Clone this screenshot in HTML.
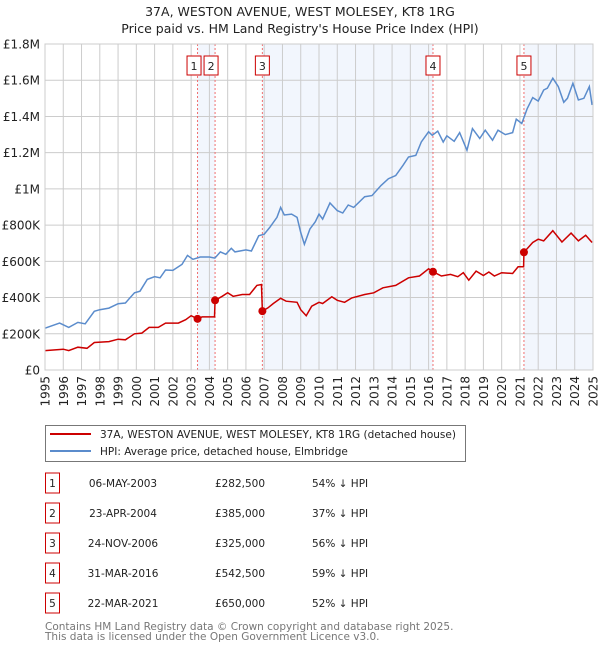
<!DOCTYPE html>
<html><head><meta charset="utf-8"><style>
body{margin:0;background:#fff;width:600px;height:650px;overflow:hidden;font-family:"DejaVu Sans","Liberation Sans",sans-serif;}
svg text{font-family:"DejaVu Sans","Liberation Sans",sans-serif;}
</style></head><body>
<svg id="c" width="600" height="650" xmlns="http://www.w3.org/2000/svg">
<text x="300" y="16" text-anchor="middle" font-size="12.5" fill="#222">37A, WESTON AVENUE, WEST MOLESEY, KT8 1RG</text>
<text x="300" y="33" text-anchor="middle" font-size="12.5" fill="#222">Price paid vs. HM Land Registry's House Price Index (HPI)</text>
<g id="shade"></g><g id="grid"></g><g id="vlines"></g><g id="lines"></g><g id="axes"></g>
<g>
<rect x="45.5" y="425.5" width="420" height="36" fill="#fff" stroke="#777"/>
<line x1="50" y1="434" x2="91" y2="434" stroke="#cc0000" stroke-width="2"/>
<text x="100" y="438" font-size="10.5" fill="#222">37A, WESTON AVENUE, WEST MOLESEY, KT8 1RG (detached house)</text>
<line x1="50" y1="451" x2="91" y2="451" stroke="#5b8ccc" stroke-width="2"/>
<text x="100" y="455" font-size="10.5" fill="#222">HPI: Average price, detached house, Elmbridge</text>
</g>
<g id="table"></g>
<text x="45" y="630" font-size="10.5" fill="#777">Contains HM Land Registry data © Crown copyright and database right 2025.</text>
<text x="45" y="640" font-size="10.5" fill="#777">This data is licensed under the Open Government Licence v3.0.</text>
</svg>
<script>
const hpiYears=[1995,1995.8,1996.3,1996.8,1997.2,1997.7,1998,1998.5,1999,1999.4,1999.9,2000.2,2000.6,2001,2001.3,2001.6,2002,2002.5,2002.8,2003.1,2003.5,2004,2004.3,2004.6,2004.9,2005.2,2005.4,2006,2006.3,2006.7,2007,2007.3,2007.7,2007.9,2008.1,2008.5,2008.8,2009,2009.2,2009.5,2009.8,2010,2010.2,2010.6,2011,2011.3,2011.6,2011.9,2012.5,2012.9,2013.4,2013.8,2014.2,2014.6,2014.9,2015.3,2015.6,2016,2016.2,2016.5,2016.8,2017,2017.4,2017.7,2018.1,2018.4,2018.8,2019.1,2019.5,2019.8,2020.2,2020.6,2020.8,2021.1,2021.4,2021.7,2022,2022.3,2022.5,2022.8,2023.1,2023.4,2023.6,2023.9,2024.2,2024.5,2024.8,2024.95];
const hpiValues=[231,259,235,263,255,324,333,342,366,370,426,435,500,515,509,552,550,583,633,611,624,624,618,652,639,672,652,663,657,741,750,787,843,898,856,861,843,759,694,778,819,861,833,922,880,867,911,898,957,963,1019,1056,1074,1130,1176,1185,1259,1315,1296,1319,1259,1293,1263,1311,1213,1333,1278,1324,1269,1324,1300,1311,1385,1361,1444,1504,1485,1546,1556,1611,1565,1478,1500,1583,1491,1500,1565,1463];
const ppYears=[1995,1996,1996.3,1996.8,1997.3,1997.7,1998.5,1999,1999.4,1999.9,2000.3,2000.7,2001.2,2001.6,2002.3,2002.7,2003,2003.35,2003.6,2004.28,2004.31,2004.7,2005,2005.3,2005.8,2006.2,2006.6,2006.85,2006.9,2007.2,2007.5,2007.9,2008.2,2008.8,2009,2009.3,2009.6,2010,2010.2,2010.7,2011,2011.4,2011.8,2012.5,2013,2013.5,2014.2,2014.9,2015.5,2016,2016.24,2016.7,2017.2,2017.6,2017.9,2018.2,2018.6,2019,2019.3,2019.6,2020,2020.6,2020.9,2021.2,2021.22,2021.7,2022,2022.3,2022.8,2023.3,2023.8,2024.2,2024.6,2024.95];
const ppValues=[107,115,107,126,120,152,157,170,167,200,204,235,235,259,259,278,300,282.5,293,293,385,407,426,407,417,417,467,472,325,343,367,396,380,374,333,300,352,374,367,404,385,374,398,417,426,454,467,509,519,559,542.5,519,528,515,537,496,546,522,541,519,537,533,570,570,650,704,722,713,769,707,756,713,744,704];
const saleYears=[2003.35,2004.31,2006.9,2016.24,2021.22];
const saleValues=[282.5,385,325,542.5,650];
const saleLabels=["1","2","3","4","5"];
const saleDates=["06-MAY-2003","23-APR-2004","24-NOV-2006","31-MAR-2016","22-MAR-2021"];
const salePrices=["£282,500","£385,000","£325,000","£542,500","£650,000"];
const saleHpi=["54% ↓ HPI","37% ↓ HPI","56% ↓ HPI","59% ↓ HPI","52% ↓ HPI"];
const yTicks=[0,200,400,600,800,1000,1200,1400,1600,1800];
const yTickLabels=["£0","£200K","£400K","£600K","£800K","£1M","£1.2M","£1.4M","£1.6M","£1.8M"];
const xTicks=[1995,1996,1997,1998,1999,2000,2001,2002,2003,2004,2005,2006,2007,2008,2009,2010,2011,2012,2013,2014,2015,2016,2017,2018,2019,2020,2021,2022,2023,2024,2025];

const L=45,R=593,T=44,B=370;
const X=y=>L+(y-1995)/30*(R-L);
const Y=v=>B-v/1800*(B-T);
const NS="http://www.w3.org/2000/svg";
function mk(tag,parent,attrs){const e=document.createElementNS(NS,tag);for(const k in attrs)e.setAttribute(k,attrs[k]);document.getElementById(parent).appendChild(e);return e;}

const shadeSpans=[[0,1],[2,3],[4,null]];
shadeSpans.forEach(([a,b])=>{
  const x1=X(saleYears[a]),x2=b===null?R:X(saleYears[b]);
  const r=mk('rect','shade',{x:x1,y:T,width:x2-x1,height:B-T,fill:'#eef3fc',opacity:0.75});
  
  
});
yTicks.forEach((v,i)=>{
  const l=mk('line','grid',{x1:L,x2:R,y1:Y(v),y2:Y(v),stroke:'#cccccc','stroke-width':1});
  
  
  const t=mk('text','axes',{x:L-5,y:Y(v)+4.5,'text-anchor':'end','font-size':12,fill:'#222'});
  t.textContent=yTickLabels[i];
  
  
});
xTicks.forEach(y=>{
  const l=mk('line','grid',{x1:X(y),x2:X(y),y1:T,y2:B,stroke:'#cccccc','stroke-width':1});
  
  
  const t=mk('text','axes',{x:0,y:0,'text-anchor':'end','font-size':12,fill:'#222',transform:`translate(${X(y)+4.5},376) rotate(-90)`});
  t.textContent=y;
  
  
});
const ax=mk('rect','axes',{x:L,y:T,width:R-L,height:B-T,fill:'none',stroke:'#ccc'});


const boxOffsets=[-10.5,-11,-7,-7,-7];
saleYears.forEach((y,i)=>{
  const l=mk('line','vlines',{x1:X(y),x2:X(y),y1:T,y2:B,stroke:'#f07070','stroke-width':1,'stroke-dasharray':'2,2'});
  
  
  const bx=X(y)+boxOffsets[i];
  const r=mk('rect','vlines',{x:bx,y:56,width:14,height:19,fill:'#fff',stroke:'#cc0000'});
  
  
  const t=mk('text','vlines',{x:bx+7,y:70,'text-anchor':'middle','font-size':11,fill:'#222'});
  t.textContent=saleLabels[i];
  
  
});
const hp=mk('polyline','lines',{points:hpiYears.map((y,i)=>X(y)+','+Y(hpiValues[i]).toFixed(1)).join(' '),fill:'none',stroke:'#5b8ccc','stroke-width':1.5});


const pp=mk('polyline','lines',{points:ppYears.map((y,i)=>X(y)+','+Y(ppValues[i]).toFixed(1)).join(' '),fill:'none',stroke:'#cc0000','stroke-width':1.5});


saleYears.forEach((y,i)=>{
  const c=mk('circle','lines',{cx:X(y),cy:Y(saleValues[i]),r:4,fill:'#cc0000'});
  
  
});
saleYears.forEach((y,i)=>{
  const cy=483+i*30;
  const r=mk('rect','table',{x:45.5,y:cy-10,width:14,height:20,fill:'#fff',stroke:'#cc0000'});
  
  
  const cells=[[52.5,saleLabels[i],'middle','table-sale-number'],[123,saleDates[i],'middle','table-sale-date'],[240,salePrices[i],'middle','table-sale-price'],[312,saleHpi[i],'start','table-sale-hpi-diff']];
  cells.forEach(([x,txt,anc,nm])=>{
    const t=mk('text','table',{x:x,y:cy+4,'text-anchor':anc,'font-size':10.5,fill:'#222'});
    t.textContent=txt;
    
    
  });
});
</script>
</body></html>
